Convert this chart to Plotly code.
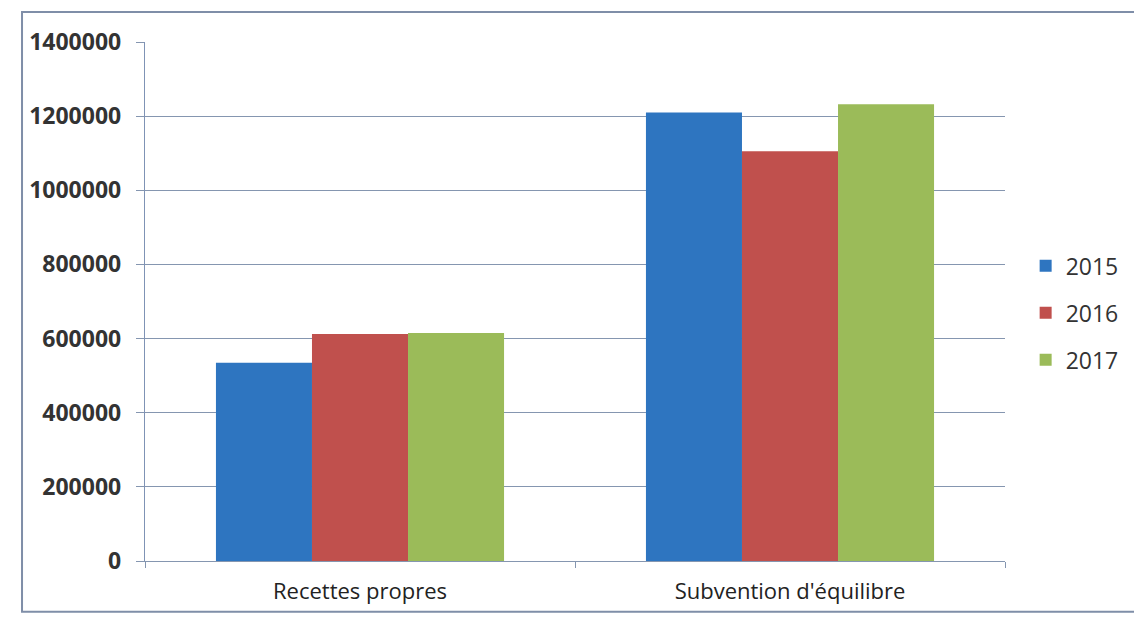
import plotly.graph_objects as go

categories = ["Recettes propres", "Subvention d'équilibre"]
years = ["2015", "2016", "2017"]
values_2015 = [535000, 1210000]
values_2016 = [612000, 1105000]
values_2017 = [615000, 1232000]
y_ticks = [0, 200000, 400000, 600000, 800000, 1000000, 1200000, 1400000]

colors = ["#2e75c0", "#c0504d", "#9bbb59"]
series = [values_2015, values_2016, values_2017]

fig = go.Figure()
for name, vals, col in zip(years, series, colors):
    fig.add_trace(go.Bar(x=categories, y=vals, name=name, marker_color=col,
                         marker_line_width=0, legendgroup=name))

fig.update_layout(
    width=1142, height=622,
    margin=dict(l=137, r=145, t=34, b=69),
    paper_bgcolor="white", plot_bgcolor="white",
    barmode="group", bargap=0.33, bargroupgap=0,
    font=dict(family="Open Sans, DejaVu Sans, sans-serif", color="#333333"),
    legend=dict(x=1.024, y=0.478, xanchor="left", yanchor="middle",
                font=dict(size=23, color="#333333"), tracegroupgap=14,
                itemwidth=30),
    showlegend=True,
)
fig.update_yaxes(range=[0, 1400000], tickvals=y_ticks, ticktext=[str(v) for v in y_ticks],
                 showgrid=True, gridcolor="#8596b0", gridwidth=1.4,
                 showline=True, linecolor="#7f93b5", linewidth=1.4,
                 ticks="outside", ticklen=8, tickcolor="#8596b0",
                 ticklabelstandoff=10,
                 tickfont=dict(size=23, color="#333333", family="Open Sans, DejaVu Sans, sans-serif", weight="bold"),
                 zeroline=False)
fig.update_xaxes(showline=True, linecolor="#8596b0", linewidth=1.4,
                 ticks="outside", ticklen=6, tickcolor="#8596b0", tickson="boundaries",
                 ticklabelstandoff=10,
                 tickfont=dict(size=22, color="#222222"))
fig.add_shape(type="rect", xref="paper", yref="paper",
              x0=-0.143, x1=1.2, y0=-0.098, y1=1.058,
              line=dict(color="#7f8ea8", width=2))
fig.write_html("out.html")
